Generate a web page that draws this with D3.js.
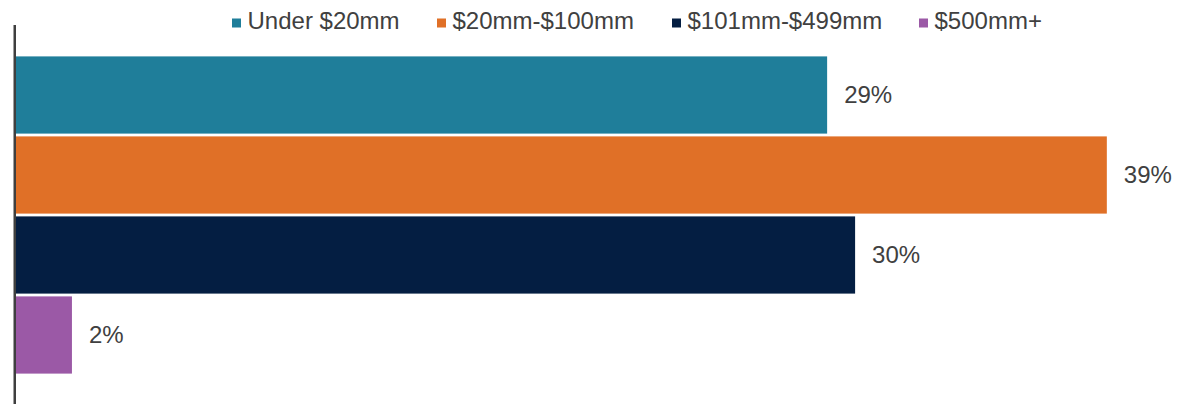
<!DOCTYPE html>
<html>
<head>
<meta charset="utf-8">
<script src="https://cdn.jsdelivr.net/npm/d3@7/dist/d3.min.js"></script>
<style>
  html, body { margin: 0; padding: 0; background: #ffffff; }
  svg { display: block; }
  text { font-family: "Liberation Sans", Arial, sans-serif; fill: #404040; }
</style>
</head>
<body>
<svg id="chart" width="1178" height="404"></svg>
<script>
// Revenue size bands and the share of respondents in each
const categories = ["Under $20mm", "$20mm-$100mm", "$101mm-$499mm", "$500mm+"];
const values = [29, 39, 30, 2];
const colors = ["#1F7E9A", "#E07027", "#041E42", "#9B59A6"];

const svg = d3.select("#chart");
const W = 1178, H = 404;

// value axis: 0% starts at the left axis line
const x = d3.scaleLinear().domain([0, 40]).range([16, 16 + 40 * 27.97]);
const y = d3.scaleBand().domain(categories).range([55, 375]).paddingInner(0.035).paddingOuter(0.0175);

// bars
svg.append("g")
  .selectAll("rect")
  .data(categories)
  .join("rect")
  .attr("x", x(0))
  .attr("y", d => y(d))
  .attr("width", (d, i) => x(values[i]) - x(0))
  .attr("height", y.bandwidth())
  .attr("fill", (d, i) => colors[i]);

// value labels
svg.append("g")
  .selectAll("text")
  .data(categories)
  .join("text")
  .attr("x", (d, i) => x(values[i]) + 17)
  .attr("y", d => y(d) + y.bandwidth() / 2)
  .attr("dy", "0.35em")
  .attr("font-size", 24)
  .text((d, i) => values[i] + "%");

// category axis line
svg.append("line")
  .attr("x1", 14.75).attr("x2", 14.75)
  .attr("y1", 25).attr("y2", H)
  .attr("stroke", "#3f3f3f")
  .attr("stroke-width", 2.5);

// legend
const legendX = [232, 437, 672, 919];
const legend = svg.append("g")
  .selectAll("g")
  .data(categories)
  .join("g")
  .attr("transform", (d, i) => `translate(${legendX[i]},0)`);

legend.append("rect")
  .attr("x", 0).attr("y", 18.5)
  .attr("width", 9).attr("height", 9)
  .attr("fill", (d, i) => colors[i]);

legend.append("text")
  .attr("x", 15.5)
  .attr("y", 29.3)
  .attr("font-size", 24)
  .text(d => d);
</script>
</body>
</html>
